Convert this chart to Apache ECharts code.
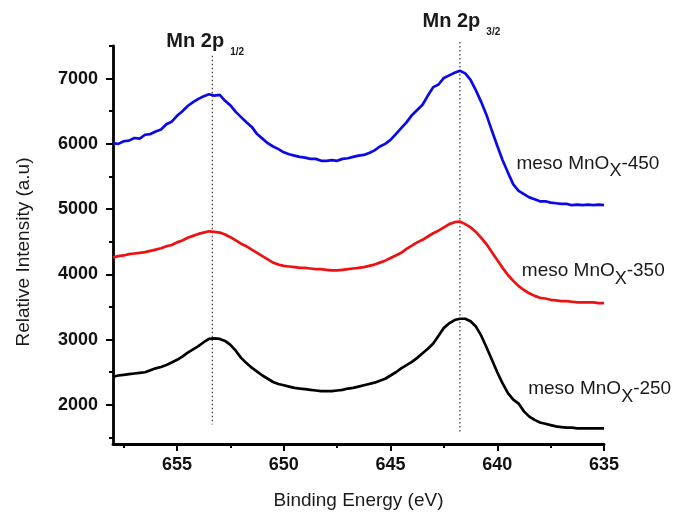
<!DOCTYPE html>
<html>
<head>
<meta charset="utf-8">
<script src="https://cdn.jsdelivr.net/npm/echarts@6/dist/echarts.min.js"></script>
<style>
html,body{margin:0;padding:0;background:#fff;}
#c{width:681px;height:512px;}
</style>
</head>
<body>
<div id="c"></div>
<script>
// Binding energy (eV), 0.25 eV steps from 658 down to 635
var energy = [
658,657.75,657.5,657.25, 657,656.75,656.5,656.25, 656,655.75,655.5,655.25, 655,654.75,654.5,654.25,
654,653.75,653.5,653.25, 653,652.75,652.5,652.25, 652,651.75,651.5,651.25, 651,650.75,650.5,650.25,
650,649.75,649.5,649.25, 649,648.75,648.5,648.25, 648,647.75,647.5,647.25, 647,646.75,646.5,646.25,
646,645.75,645.5,645.25, 645,644.75,644.5,644.25, 644,643.75,643.5,643.25, 643,642.75,642.5,642.25,
642,641.75,641.5,641.25, 641,640.75,640.5,640.25, 640,639.75,639.5,639.25, 639,638.75,638.5,638.25,
638,637.75,637.5,637.25, 637,636.75,636.5,636.25, 636,635.75,635.5,635.25, 635];
var meso450 = [
6010,6000,6040,6050, 6090,6080,6140,6150, 6190,6220,6300,6340, 6430,6500,6580,6640,
6690,6730,6760,6740, 6750,6660,6590,6490, 6410,6330,6260,6150, 6080,6010,5960,5920,
5870,5840,5820,5800, 5790,5770,5770,5740, 5740,5750,5740,5770, 5780,5800,5820,5830,
5860,5900,5960,6000, 6060,6150,6240,6330, 6440,6520,6600,6740, 6870,6910,7010,7050,
7090,7120,7080,6980, 6820,6640,6440,6200, 5970,5750,5560,5380, 5280,5230,5180,5150,
5120,5120,5100,5090, 5080,5080,5060,5070, 5060,5070,5060,5070, 5060];
var meso350 = [
4260,4280,4290,4310, 4320,4330,4340,4360, 4380,4400,4430,4450, 4490,4520,4560,4590,
4620,4640,4660,4650, 4640,4610,4570,4520, 4470,4430,4380,4330, 4280,4230,4180,4150,
4130,4120,4110,4100, 4100,4090,4080,4080, 4070,4060,4060,4070, 4080,4090,4100,4110,
4130,4150,4180,4210, 4250,4290,4330,4390, 4440,4490,4530,4580, 4630,4670,4720,4770,
4800,4810,4770,4720, 4650,4560,4460,4340, 4220,4100,3990,3900, 3820,3760,3710,3670,
3640,3630,3610,3600, 3590,3590,3580,3570, 3570,3570,3570,3560, 3560];
var meso250 = [
2430,2450,2460,2470, 2480,2490,2500,2530, 2560,2580,2610,2650, 2690,2740,2800,2850,
2900,2960,3010,3020, 3010,2980,2920,2830, 2720,2640,2570,2510, 2450,2400,2350,2320,
2300,2280,2260,2250, 2240,2230,2220,2210, 2210,2210,2220,2230, 2250,2260,2280,2300,
2320,2340,2370,2400, 2450,2500,2560,2610, 2660,2720,2790,2860, 2940,3060,3180,3250,
3300,3320,3320,3280, 3200,3060,2880,2690, 2500,2330,2180,2080, 2020,1900,1820,1770,
1730,1710,1690,1670, 1660,1650,1650,1640, 1640,1640,1640,1640, 1640];
var xMajorTicks = [635,640,645,650,655];
var xMinorTicks = [637.5,642.5,647.5,652.5,657.5];
var yMajorTicks = [2000,3000,4000,5000,6000,7000];
var yMinorTicks = [1500,2500,3500,4500,5500,6500,7500];
// peak reference lines (energy, top value, bottom value) and their titles
var peakLines = [{energy:653.35, top:7350, bottom:1700},
                 {energy:641.75, top:7560, bottom:1560}];
var peakTitles = [{main:'Mn 2p', sub:'1/2', energy:655.5, value:7576},
                  {main:'Mn 2p', sub:'3/2', energy:643.5, value:7883}];
var seriesLabels = [{main:'meso MnO', sub:'X', tail:'-450', energy:639.1, value:5700},
                    {main:'meso MnO', sub:'X', tail:'-350', energy:638.85, value:4050},
                    {main:'meso MnO', sub:'X', tail:'-250', energy:638.55, value:2240}];

var FONT = '"Liberation Sans", Arial, sans-serif';
function pairs(vals){ return energy.map(function(e,i){return [e, vals[i]];}); }

var chart = echarts.init(document.getElementById('c'), null, {renderer:'canvas'});

function xAxisBase(extra){
  return Object.assign({
    type:'value', min:635, max:658, inverse:true, position:'bottom',
    splitLine:{show:false}
  }, extra);
}
function yAxisBase(extra){
  return Object.assign({
    type:'value', min:1400, max:7500, position:'left',
    splitLine:{show:false}
  }, extra);
}

function seriesLabelPoint(l){
  return {
    coord:[l.energy, l.value],
    symbolSize:0,
    label:{
      show:true, position:'inside', align:'left', verticalAlign:'middle',
      formatter:'{n|'+l.main+'}{s|'+l.sub+'}{n|'+l.tail+'}',
      rich:{
        n:{fontFamily:FONT, fontSize:19, color:'#1a1a1a', lineHeight:22},
        s:{fontFamily:FONT, fontSize:18, color:'#1a1a1a', lineHeight:22, padding:[16,0,0,0]}
      }
    }
  };
}

function mkLine(color, vals, name, idx){
  return {
    type:'line', name:name, data:pairs(vals), showSymbol:false, symbol:'none',
    lineStyle:{color:color, width:2.7}, itemStyle:{color:color},
    markPoint:{symbol:'circle', symbolSize:0, data:[seriesLabelPoint(seriesLabels[idx])]}
  };
}

var option = {
  animation:false,
  backgroundColor:'#ffffff',
  grid:{left:113, right:77, top:46, bottom:68, containLabel:false, outerBoundsMode:'none'},
  xAxis:[
    xAxisBase({
      name:'Binding Energy (eV)', nameLocation:'middle', nameGap:47,
      nameTextStyle:{fontFamily:FONT, fontSize:19, color:'#1a1a1a'},
      axisLine:{show:true, lineStyle:{color:'#000', width:2.8}},
      axisTick:{show:true, length:7, inside:false, lineStyle:{color:'#000', width:2}, customValues:xMajorTicks},
      axisLabel:{show:true, margin:12, fontFamily:FONT, fontSize:18, fontWeight:'bold', color:'#111', customValues:xMajorTicks,
                 formatter:function(v){return String(v);}}
    }),
    xAxisBase({
      axisLine:{show:false},
      axisTick:{show:true, length:4, lineStyle:{color:'#000', width:2}, customValues:xMinorTicks},
      axisLabel:{show:false}
    })
  ],
  yAxis:[
    yAxisBase({
      name:'Relative Intensity (a.u)', nameLocation:'middle', nameGap:80, nameRotate:90,
      nameTextStyle:{fontFamily:FONT, fontSize:19, color:'#1a1a1a', padding:[0,14,0,0]},
      axisLine:{show:true, lineStyle:{color:'#000', width:2.8}},
      axisTick:{show:true, length:7, lineStyle:{color:'#000', width:2}, customValues:yMajorTicks},
      axisLabel:{show:true, margin:15, fontFamily:FONT, fontSize:18, fontWeight:'bold', color:'#111', customValues:yMajorTicks,
                 formatter:function(v){return String(v);}}
    }),
    yAxisBase({
      axisLine:{show:false},
      axisTick:{show:true, length:4, lineStyle:{color:'#000', width:2}, customValues:yMinorTicks},
      axisLabel:{show:false}
    })
  ],
  series:[
    mkLine('#0a0ae6', meso450, 'meso MnOx-450', 0),
    mkLine('#ee1111', meso350, 'meso MnOx-350', 1),
    mkLine('#000000', meso250, 'meso MnOx-250', 2)
  ]
};
chart.setOption(option);

// peak annotations placed through the chart's own coordinate conversion
function px(e, v){ return chart.convertToPixel({xAxisIndex:0, yAxisIndex:0}, [e, v]); }
var graphics = [];
peakLines.forEach(function(p){
  var a = px(p.energy, p.top), b = px(p.energy, p.bottom);
  graphics.push({type:'line', silent:true, z:1,
    shape:{x1:a[0], y1:a[1], x2:b[0], y2:b[1]},
    style:{stroke:'#333', lineWidth:1.2, lineDash:[1.5,2.5]}});
});
peakTitles.forEach(function(t){
  var p = px(t.energy, t.value);
  graphics.push({type:'text', silent:true, z:10, x:p[0], y:p[1],
    style:{
      text:'{m|'+t.main+'}{s|'+t.sub+'}',
      align:'left', verticalAlign:'middle',
      rich:{
        m:{fontFamily:FONT, fontSize:20, fontWeight:'bold', fill:'#1a1a1a', lineHeight:22},
        s:{fontFamily:FONT, fontSize:10, fontWeight:'bold', fill:'#1a1a1a', lineHeight:22, padding:[22,0,0,6]}
      }
    }});
});
chart.setOption({graphic:graphics});
</script>
</body>
</html>
